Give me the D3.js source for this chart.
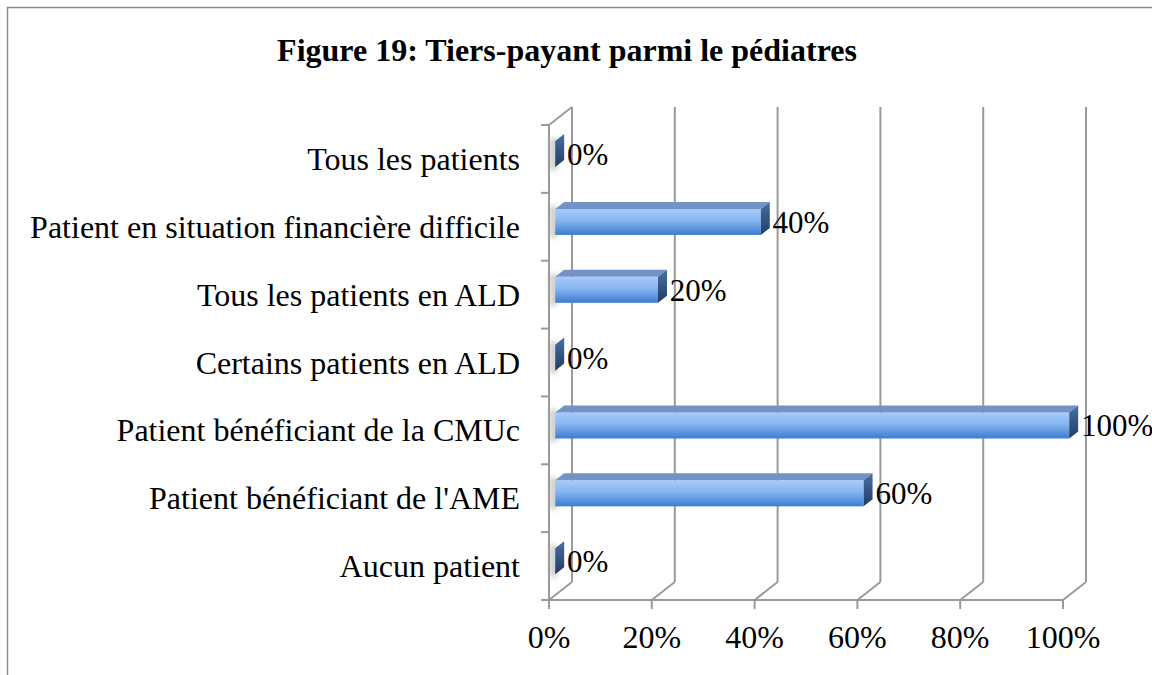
<!DOCTYPE html>
<html><head><meta charset="utf-8">
<script src="https://cdn.jsdelivr.net/npm/d3@7"></script>
<style>body{margin:0;background:#fff}svg{display:block}</style>
</head><body>
<script>
const categories = ["Tous les patients","Patient en situation financière difficile","Tous les patients en ALD","Certains patients en ALD","Patient bénéficiant de la CMUc","Patient bénéficiant de l'AME","Aucun patient"];
const values = [0, 0.40, 0.20, 0, 1.00, 0.60, 0];
const valueLabels = ["0%","40%","20%","0%","100%","60%","0%"];
const tickValues = [0, 0.2, 0.4, 0.6, 0.8, 1.0];
const title = "Figure 19: Tiers-payant parmi le pédiatres";

const W = 1152, H = 675;
const svg = d3.select("body").append("svg").attr("width", W).attr("height", H);
const serif = "'Liberation Serif','Times New Roman',serif";
const FS = 32;

const defs = svg.append("defs");
const gf = defs.append("linearGradient").attr("id","front").attr("x1",0).attr("y1",0).attr("x2",0).attr("y2",1);
gf.append("stop").attr("offset","0%").attr("stop-color","#a6cbfb");
gf.append("stop").attr("offset","45%").attr("stop-color","#86b5f1");
gf.append("stop").attr("offset","100%").attr("stop-color","#3c7ccf");
const gs = defs.append("linearGradient").attr("id","side").attr("x1",0).attr("y1",0).attr("x2",0).attr("y2",1);
gs.append("stop").attr("offset","0%").attr("stop-color","#4a6fa3");
gs.append("stop").attr("offset","100%").attr("stop-color","#1f3c66");
defs.append("filter").attr("id","blur").attr("x","-50%").attr("y","-50%").attr("width","200%").attr("height","200%")
  .append("feGaussianBlur").attr("stdDeviation",2.5);

// outer border
svg.append("path").attr("d","M7.5,675 L7.5,7.5 L1152,7.5").attr("fill","none").attr("stroke","#8c8c8c").attr("stroke-width",1.5);

// title
svg.append("text").attr("x",567).attr("y",61).attr("text-anchor","middle")
  .attr("font-family",serif).attr("font-weight","bold").attr("font-size",32).text(title);

// scales & 3D projection
const x = d3.scaleLinear().domain([0,1]).range([549,1063]);
const y = d3.scaleBand().domain(categories).range([125,600]).padding(0);
const DX = 23, DY = -18;
const P = (v, yy, d) => [x(v) + d*DX, yy + d*DY];
const grid = "#9a9a9a";

const g = svg.append("g");
tickValues.forEach(t => {
  const [bx, by] = P(t, 600, 1);
  const [tx, ty] = P(t, 125, 1);
  g.append("line").attr("x1",bx).attr("y1",by).attr("x2",tx).attr("y2",ty).attr("stroke",grid).attr("stroke-width",2);
  const [fx, fy] = P(t, 600, 0);
  g.append("line").attr("x1",fx).attr("y1",fy).attr("x2",bx).attr("y2",by).attr("stroke",grid).attr("stroke-width",2);
  g.append("line").attr("x1",fx).attr("y1",fy).attr("x2",fx).attr("y2",fy+9).attr("stroke",grid).attr("stroke-width",2);
});
g.append("line").attr("x1",x(0)).attr("y1",600).attr("x2",x(1)).attr("y2",600).attr("stroke",grid).attr("stroke-width",2);
{
  const a = P(0,125,0), b = P(0,125,1);
  g.append("line").attr("x1",x(0)).attr("y1",125).attr("x2",x(0)).attr("y2",600).attr("stroke",grid).attr("stroke-width",2);
  g.append("line").attr("x1",a[0]).attr("y1",a[1]).attr("x2",b[0]).attr("y2",b[1]).attr("stroke",grid).attr("stroke-width",2);
}
const catBounds = categories.map(c => y(c)).concat([600]);
catBounds.forEach(yy => {
  g.append("line").attr("x1",x(0)-8).attr("y1",yy).attr("x2",x(0)).attr("y2",yy).attr("stroke",grid).attr("stroke-width",2);
});

svg.append("g").selectAll("text").data(tickValues).join("text")
  .attr("x", d => x(d)).attr("y", 648).attr("text-anchor","middle")
  .attr("font-family",serif).attr("font-size",FS).text(d => Math.round(d*100) + "%");

svg.append("g").selectAll("text").data(categories).join("text")
  .attr("x", 520).attr("y", d => y(d) + y.bandwidth()/2 + 11).attr("text-anchor","end")
  .attr("font-family",serif).attr("font-size",FS).text(d => d);

const D0 = 0.27, D1 = 0.66, HB = 13;
const bars = svg.append("g");
categories.forEach((c, i) => {
  const v = values[i];
  const yc = y(c) + y.bandwidth()/2;
  const pt = (vv, yy, d) => P(vv, yy, d).join(",");
  bars.append("rect").attr("x", x(0)+1).attr("y", yc-HB+D0*DY-3).attr("width",7).attr("height",2*HB+6)
    .attr("fill","#9a9a9a").attr("opacity",0.5).attr("filter","url(#blur)");
  if (v > 0) {
    const f0 = P(0, yc-HB, D0), f1 = P(v, yc+HB, D0);
    bars.append("rect").attr("x",f0[0]).attr("y",f0[1]).attr("width",f1[0]-f0[0]).attr("height",f1[1]-f0[1]).attr("fill","url(#front)");
    bars.append("polygon").attr("points",[pt(0,yc-HB,D0),pt(v,yc-HB,D0),pt(v,yc-HB,D1),pt(0,yc-HB,D1)].join(" "))
      .attr("fill","#7393c6");
  }
  bars.append("polygon").attr("points",[pt(v,yc-HB,D0),pt(v,yc-HB,D1),pt(v,yc+HB,D1),pt(v,yc+HB,D0)].join(" "))
    .attr("fill","url(#side)");
  bars.append("text").attr("x", x(v)+18).attr("y", yc+6).attr("font-family",serif).attr("font-size",31)
    .text(valueLabels[i]);
});
</script>
</body></html>
